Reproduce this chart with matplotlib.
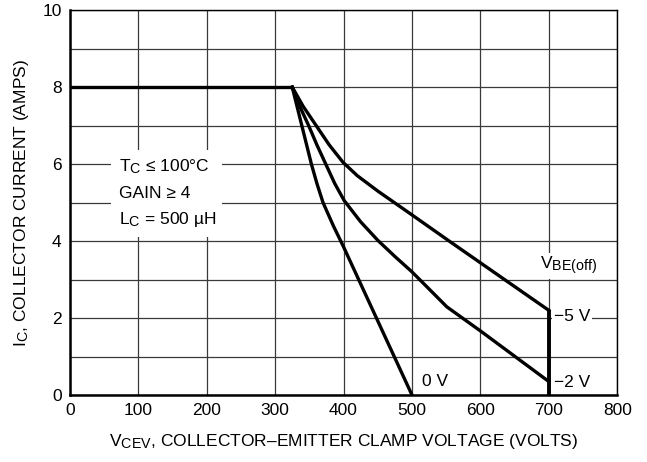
import matplotlib.pyplot as plt
import matplotlib._mathtext as mt
from matplotlib.patches import Rectangle

# subscripts in the original are only a little smaller than the text
mt.SHRINK_FACTOR = 0.82

plt.rcParams['font.family'] = ['Liberation Sans', 'DejaVu Sans']
plt.rcParams['mathtext.fontset'] = 'custom'
plt.rcParams['mathtext.rm'] = 'Liberation Sans'
plt.rcParams['mathtext.it'] = 'Liberation Sans'

# curve data: (V_CEV volts, I_C amps)
v_flat = [0, 325]
i_flat = [8, 8]

v_0v = [325, 332, 339, 346, 353, 361, 370, 385, 400, 500]
i_0v = [8, 7.5, 7, 6.5, 6, 5.5, 5, 4.4, 3.85, 0]

v_2v = [325, 336, 349, 361, 374, 387, 401, 425, 450, 475, 500, 551, 602, 700]
i_2v = [8, 7.5, 7, 6.5, 6, 5.5, 5.05, 4.5, 4.02, 3.6, 3.2, 2.29, 1.64, 0.35]

v_5v = [325, 341, 360, 379, 399, 420, 450, 500, 556, 700]
i_5v = [8, 7.5, 7, 6.5, 6.05, 5.7, 5.3, 4.68, 3.98, 2.2]

v_clamp = [700, 700]
i_clamp = [2.2, 0]

x_ticks = [0, 100, 200, 300, 400, 500, 600, 700, 800]
y_ticks = [0, 2, 4, 6, 8, 10]

fig = plt.figure(figsize=(6.47, 4.62), dpi=100)
ax = fig.add_axes([0.108, 0.145, 0.846, 0.833])

ax.set_xlim(0, 800)
ax.set_ylim(0, 10)
ax.set_xticks(x_ticks)
ax.set_yticks(y_ticks)
ax.set_xticks(range(0, 801, 100), minor=True)
ax.set_yticks(range(0, 11), minor=True)
ax.grid(True, which='both', color='#3a3a3a', lw=0.9, zorder=1)
ax.tick_params(which='both', length=0, labelsize=12.5, pad=6)

for s in ['left', 'bottom']:
    ax.spines[s].set_linewidth(1.8)
for s in ['top', 'right']:
    ax.spines[s].set_linewidth(1.0)

lw = 2.4
ax.plot(v_flat, i_flat, color='black', lw=lw, zorder=3, solid_capstyle='butt')
for v, i in [(v_0v, i_0v), (v_2v, i_2v), (v_5v, i_5v)]:
    ax.plot(v, i, color='black', lw=lw, zorder=3, solid_joinstyle='round')
ax.plot(v_clamp, i_clamp, color='black', lw=lw + 0.4, zorder=3, solid_capstyle='butt')

# condition box
ax.add_patch(Rectangle((60, 4.1), 162, 2.26, facecolor='white', edgecolor='none', zorder=2))
ax.text(72, 5.93, r'T$_\mathregular{C}$ ≤ 100°C', fontsize=12.5, va='center', zorder=4)
ax.text(72, 5.24, 'GAIN ≥ 4', fontsize=12.5, va='center', zorder=4)
ax.text(72, 4.55, r'L$_\mathregular{C}$ = 500 µH', fontsize=12.5, va='center', zorder=4)

wb = dict(facecolor='white', edgecolor='none', pad=1.5)
ax.text(515, 0.35, '0 V', fontsize=12.5, va='center', zorder=4)
ax.text(707, 2.03, '\u22125 V', fontsize=12.5, va='center', bbox=wb, zorder=4)
ax.text(707, 0.33, '\u22122 V', fontsize=12.5, va='center', zorder=4)
ax.text(729, 3.35, r'V$_\mathregular{BE(off)}$', fontsize=12.5, ha='center', va='center',
        bbox=wb, zorder=4)

ax.set_xlabel('V$_\\mathregular{CEV}$, COLLECTOR\u2013EMITTER CLAMP VOLTAGE (VOLTS)',
              fontsize=12.5, labelpad=10)
ax.set_ylabel(r'I$_\mathregular{C}$, COLLECTOR CURRENT (AMPS)', fontsize=12.5, labelpad=8)

fig.savefig('out.png', dpi=100)
